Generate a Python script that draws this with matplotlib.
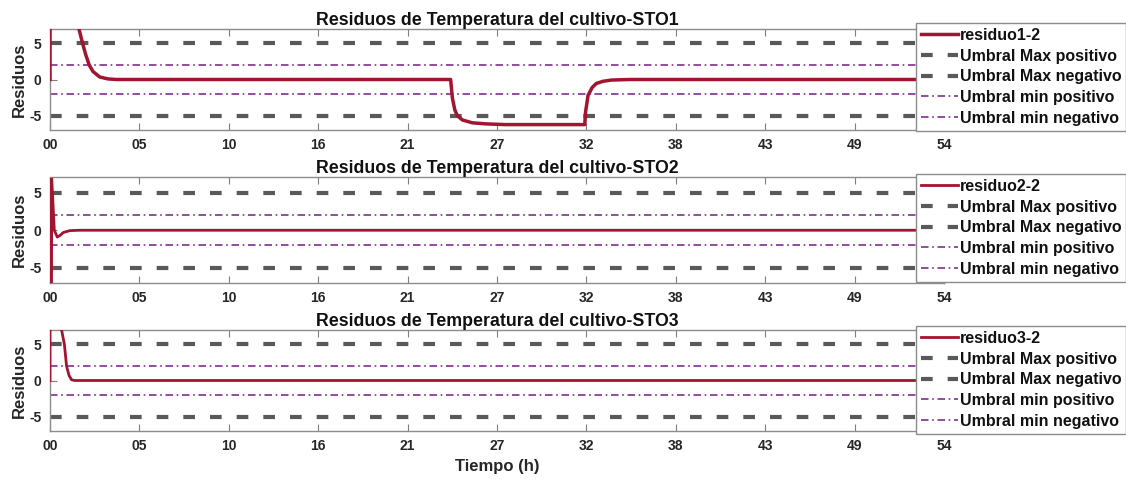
import matplotlib
matplotlib.use("Agg")
import matplotlib.pyplot as plt

plt.rcParams['font.family'] = ['Liberation Sans', 'DejaVu Sans']
plt.rcParams['font.weight'] = 'bold'

t1 = [0, 0, 1.2, 1.75, 1.97, 2.15, 2.37, 2.6, 3.0, 3.5, 4.0,
      24.2, 24.3, 24.45, 24.6, 24.9, 25.5, 26.3, 27.5,
      32.3, 32.35, 32.5, 32.75, 33.0, 33.4, 33.9, 35.0, 54]
r1 = [0, 12, 12, 7, 5, 3.5, 2, 1.1, 0.35, 0.08, 0,
      0, -2.5, -4.2, -5, -5.6, -6.0, -6.15, -6.25,
      -6.25, -4.5, -2.2, -1.1, -0.55, -0.25, -0.08, 0, 0]

t2 = [0, 0, 0.03, 0.06, 0.1, 0.26, 0.44, 0.6, 0.8, 1.2, 1.8, 54]
r2 = [0, -20, 20, -20, 7, 0, -0.9, -0.7, -0.3, -0.05, 0, 0]

t3 = [0, 0, 0.4, 0.7, 0.87, 1.0, 1.15, 1.3, 1.5, 54]
r3 = [0, 20, 14, 7, 5, 2, 0.7, 0.1, 0, 0]

umbral_max = 5
umbral_min = 2

tick_pos = [0, 5.4, 10.8, 16.2, 21.6, 27, 32.4, 37.8, 43.2, 48.6, 54]
tick_lab = ['00', '05', '10', '16', '21', '27', '32', '38', '43', '49', '54']

series = [
    (t1, r1, 'residuo1-2', 'Residuos de Temperatura del cultivo-STO1'),
    (t2, r2, 'residuo2-2', 'Residuos de Temperatura del cultivo-STO2'),
    (t3, r3, 'residuo3-2', 'Residuos de Temperatura del cultivo-STO3'),
]

# posiciones en pixeles: (arriba, abajo) de cada eje y arriba de la leyenda
W, H = 1126, 479
boxes = [(29, 130, 23), (177.5, 283, 174), (330, 431, 326)]

rojo = '#A2142F'
gris = '#595959'
morado = '#7E2F8E'

fig = plt.figure(figsize=(W / 100, H / 100), dpi=100)

for i, (t, r, nombre, titulo) in enumerate(series):
    top, bot, leg_top = boxes[i]
    ax = fig.add_axes([50 / W, 1 - bot / H, 894 / W, (bot - top) / H])

    lw_res = 2.5 if i == 0 else 2.0
    ax.plot(t, r, color=rojo, lw=lw_res, label=nombre, zorder=3)
    ax.axhline(umbral_max, color=gris, lw=3, ls=(0, (2.8, 3.6)),
               label='Umbral Max positivo')
    ax.axhline(-umbral_max, color=gris, lw=3, ls=(0, (2.8, 3.6)),
               label='Umbral Max negativo')
    ax.axhline(umbral_min, color=morado, lw=1.2, ls=(0, (4.5, 2.2, 1, 2.2)),
               label='Umbral min positivo')
    ax.axhline(-umbral_min, color=morado, lw=1.2, ls=(0, (4.5, 2.2, 1, 2.2)),
               label='Umbral min negativo')

    ax.set_xlim(0, 54)
    ax.set_ylim(-7, 7)
    ax.set_xticks(tick_pos)
    ax.set_xticklabels(tick_lab)
    ax.set_yticks([-5, 0, 5])
    ax.set_yticklabels(['-5', '0', '5'])
    ax.tick_params(direction='in', length=5, width=0.8, color='#7f7f7f',
                   labelsize=10, labelcolor='#262626', top=True, pad=6)
    for lab in ax.get_xticklabels() + ax.get_yticklabels():
        lab.set_fontweight('bold')
    for s in ax.spines.values():
        s.set_color('#8c8c8c')
        s.set_linewidth(1)

    ax.set_ylabel('Residuos', fontsize=12, fontweight='bold', color='#262626',
                  labelpad=2)
    ax.set_title(titulo, fontsize=12.8, fontweight='bold', color='#111111', pad=3)

    leg = ax.legend(loc='upper left',
                    bbox_to_anchor=(916 / W, 1 - leg_top / H),
                    bbox_transform=fig.transFigure,
                    fontsize=11.5, frameon=True, fancybox=False,
                    handlelength=2.3, handletextpad=0.15, labelspacing=0.36,
                    borderpad=0.3, borderaxespad=0)
    leg.get_frame().set_edgecolor('#8c8c8c')
    leg.get_frame().set_linewidth(1)
    leg.get_frame().set_alpha(1)
    for txt in leg.get_texts():
        txt.set_fontweight('bold')
        txt.set_color('#111111')

    if i == 2:
        ax.set_xlabel('Tiempo (h)', fontsize=12, fontweight='bold',
                      color='#262626', labelpad=4)

fig.savefig('out.png', dpi=100)
